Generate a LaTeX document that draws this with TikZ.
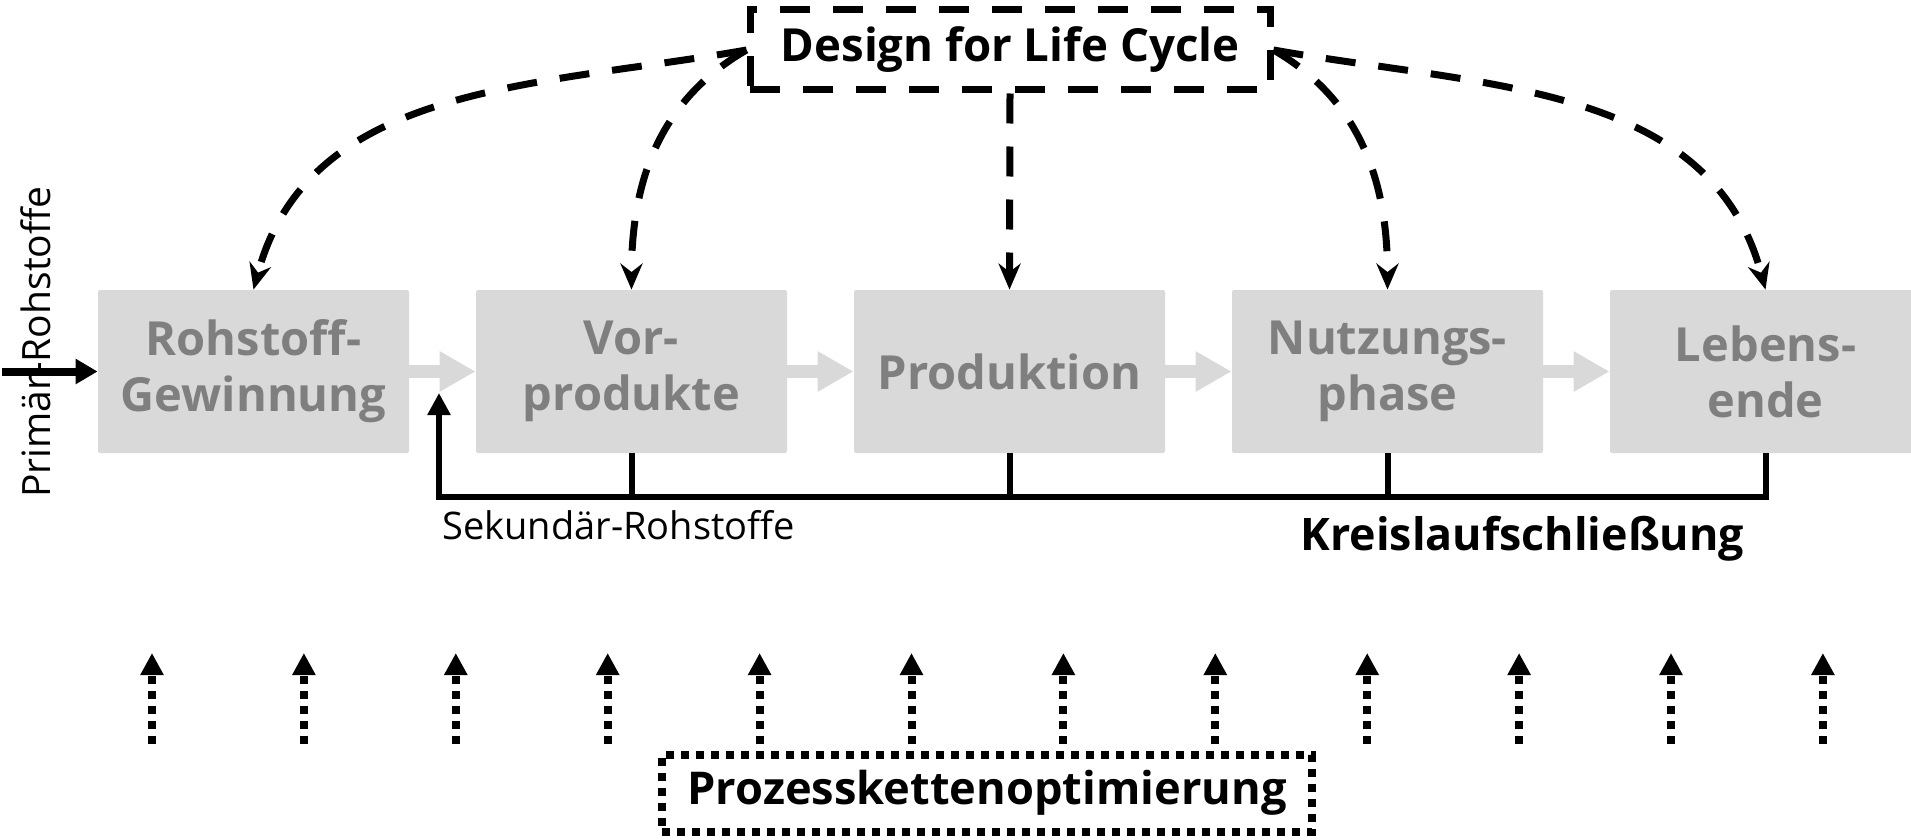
\documentclass[tikz,border=0pt]{standalone}
\usepackage{fontspec}
\setmainfont{Open Sans}
\usepackage{xcolor}
\usetikzlibrary{arrows.meta}
\definecolor{boxgray}{RGB}{217,217,217}
\definecolor{textgray}{RGB}{127,127,127}

\begin{document}
\begin{tikzpicture}[x=0.5pt,y=-0.5pt]
\useasboundingbox (0,0) rectangle (1911,840);

\begin{scope}[every node/.style={fill=boxgray,rounded corners=1pt,minimum width=155.5pt,minimum height=81.5pt,inner sep=0pt,align=center,text=textgray,font=\fontsize{23.5}{28}\selectfont\bfseries}]
  \node (rg) at (253.5,371.5) {Rohstoff-\\Gewinnung};
  \node (vp) at (631.5,371.5) {Vor-\\produkte};
  \node (pr) at (1009.5,371.5) {Produktion};
  \node (np) at (1387.5,371.5) {Nutzungs-\\phase};
  \node (le) at (1765.5,371.5) {Lebens-\\ende};
\end{scope}

\node[draw,line width=3.5pt,dash pattern=on 15pt off 11.5pt,minimum width=260pt,minimum height=40pt,inner sep=0pt,font=\fontsize{22.8}{27}\selectfont\bfseries] (dfl) at (1010,50) {Design for Life Cycle};
\node[draw,line width=4pt,dash pattern=on 4pt off 3.5pt,minimum width=325pt,minimum height=38.5pt,inner sep=0pt,font=\fontsize{22.6}{26}\selectfont\bfseries] (pko) at (987,793) {Prozesskettenoptimierung};

\begin{scope}[>={Stealth[length=13pt,width=11pt]},
              every edge/.style={draw=black, line width=3.5pt, dash pattern=on 15pt off 11.5pt}]
    \path [->] (dfl.west) edge[out=190,in=75] (rg.north);
    \path [->] (dfl.west) edge[out=210,in=90] (vp.north);
    \path [->] (dfl.south) edge (pr.north);
    \path [->] (dfl.east) edge[out=-30,in=90] (np.north);
    \path [->] (dfl.east) edge[out=-10,in=105] (le.north);
\end{scope}

\begin{scope}[>={Triangle[length=18pt,width=19pt]},
              every edge/.style={draw=boxgray, line width=6.5pt}]
    \path [->] (rg) edge (vp) (vp) edge (pr) (pr) edge (np) (np) edge (le);
\end{scope}

% Kreislauf
\coordinate (fbc) at (439,497);
\coordinate (fbt) at (439,393);
\draw[line width=3pt,-{Triangle[length=11pt,width=11pt]}] (le.south) |- (fbc) -- (fbt);
\foreach \n in {vp,pr,np} \draw[line width=3pt] (\n.south) -- (\n.south |- fbc);

\node[anchor=base west,inner sep=0pt,font=\fontsize{19}{22}\selectfont] (sek) at (442,539) {Sekundär-Rohstoffe};
\node[anchor=base west,inner sep=0pt,font=\fontsize{22.4}{26}\selectfont\bfseries] (kls) at (1300,550) {Kreislaufschließung};

% Primaer-Rohstoffe
\node[rotate=90,anchor=base,inner sep=0pt,font=\fontsize{19.5}{22}\selectfont] (prim) at (50,342) {Primär-Rohstoffe};
\coordinate (pin) at (2,371.5);
\draw[line width=4pt,-{Triangle[length=11pt,width=12pt]}] (pin) -- (rg.west);

% Prozesskette
\foreach \i in {0,...,11} {
  \coordinate (b\i) at (152+151.9*\i,744);
  \coordinate (t\i) at (152+151.9*\i,653);
  \draw[line width=4pt,dash pattern=on 4pt off 3.5pt,-{Triangle[length=11pt,width=11pt]}] (b\i) -- (t\i);
}

\end{tikzpicture}
\end{document}
